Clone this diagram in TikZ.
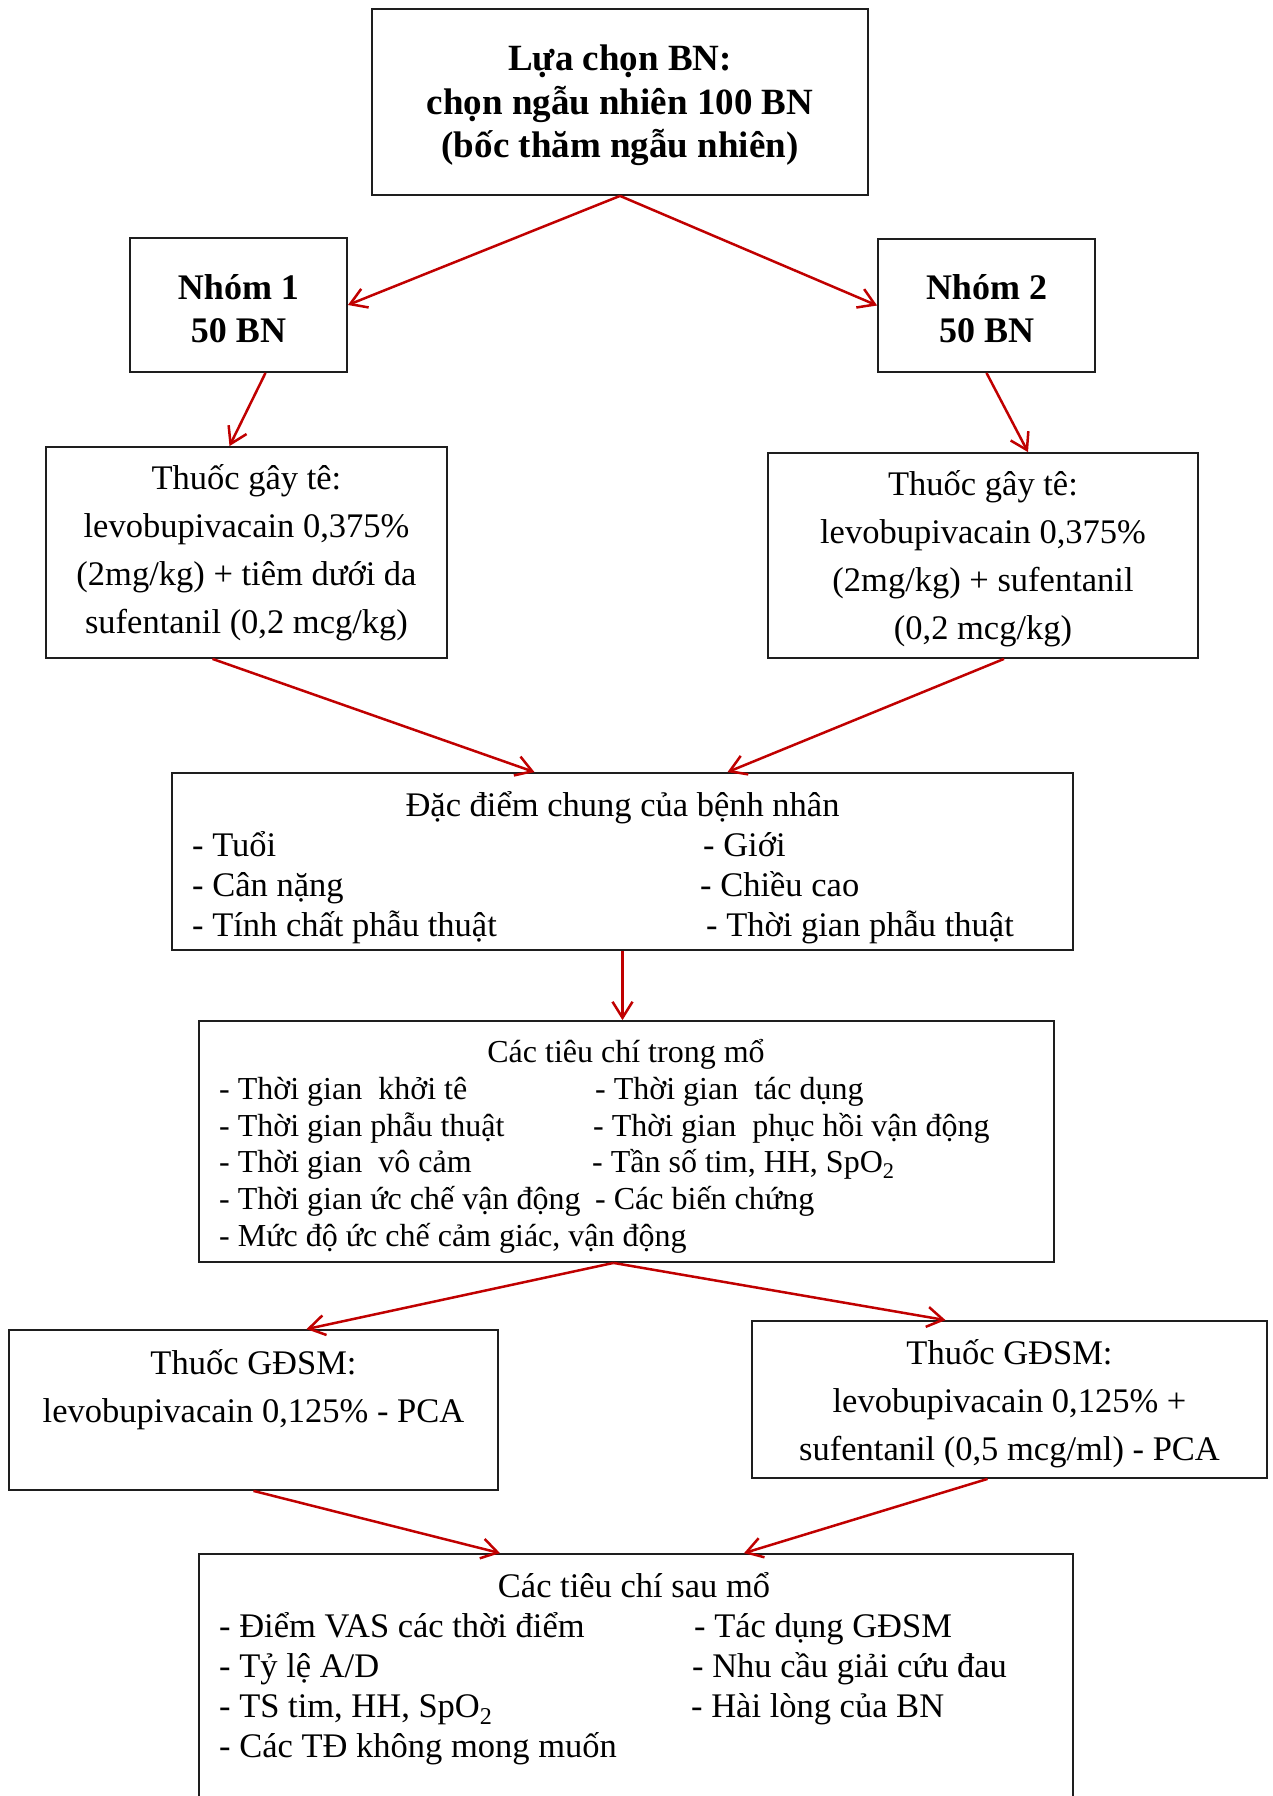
\documentclass[tikz,border=0pt]{standalone}
\usepackage{fontspec}
\setmainfont{Liberation Serif}
\usetikzlibrary{arrows.meta}
\definecolor{linkred}{HTML}{C00000}
\definecolor{boxline}{HTML}{1E1E1E}
\newcommand{\headfont}{\fontsize{37}{43.5}\selectfont\bfseries}
\newcommand{\groupfont}{\fontsize{36}{43.5}\selectfont\bfseries}
\newcommand{\drugfont}{\fontsize{34.5}{48}\selectfont}
\newcommand{\listfont}{\fontsize{34.5}{40}\selectfont}
\newcommand{\intrafont}{\fontsize{32}{36.6}\selectfont}
\tikzset{
  box/.style={draw=boxline, line width=1.8pt, inner sep=0pt, align=center},
  link/.style={draw=linkred, line width=2.5pt, -{Straight Barb[length=16pt,width=20pt]}},
  head/.style={anchor=base, inner sep=0pt},
  item/.style={anchor=base west, inner sep=0pt},
}

\begin{document}
\begin{tikzpicture}[x=1pt,y=-1pt]
\useasboundingbox (0,0) rectangle (1272,1796);

% boxes
\node[box, minimum width=496pt, minimum height=186pt, font=\headfont, text depth=1pt]    (select) at ( 620, 102)   {Lựa chọn BN:\\chọn ngẫu nhiên 100 BN\\(bốc thăm ngẫu nhiên)};
\node[box, minimum width=217pt, minimum height=134pt, font=\groupfont, text height=75pt, text depth=0pt] (grpA) at (238.5, 305)  {Nhóm 1\\50 BN};
\node[box, minimum width=217pt, minimum height=133pt, font=\groupfont, text height=74pt, text depth=0pt] (grpB) at (986.5,305.5) {Nhóm 2\\50 BN};
\node[box, minimum width=401pt, minimum height=211pt, font=\drugfont]                    (drugA)  at (246.5,552.5) {Thuốc gây tê:\\levobupivacain 0,375\%\\(2mg/kg) + tiêm dưới da\\sufentanil (0,2 mcg/kg)};
\node[box, minimum width=430pt, minimum height=205pt, font=\drugfont, text depth=-1.5pt] (drugB)  at ( 983,555.5)  {Thuốc gây tê:\\levobupivacain 0,375\%\\(2mg/kg) + sufentanil\\(0,2 mcg/kg)};
\node[box, minimum width=901pt, minimum height=177pt]                                    (traits) at (622.5,861.5) {};
\node[box, minimum width=855pt, minimum height=241pt]                                    (intra)  at (626.5,1141.5) {};
\node[box, minimum width=489pt, minimum height=160pt, font=\drugfont, text depth=49pt]   (analgA) at (253.5,1410) {Thuốc GĐSM:\\levobupivacain 0,125\% - PCA};
\node[box, minimum width=515pt, minimum height=157pt, font=\drugfont, text depth=-1.5pt] (analgB) at (1009.5,1399.5) {Thuốc GĐSM:\\levobupivacain 0,125\% +\\sufentanil (0,5 mcg/ml) - PCA};
\node[box, minimum width=874pt, minimum height=262pt]                                    (post)   at ( 636,1685)   {};

% general traits
\node[head, font=\listfont] (traitsHead) at (622.5, 816) {Đặc điểm chung của bệnh nhân};
\node[item, font=\listfont] (traitsA1)   at ( 192, 856) {- Tuổi};
\node[item, font=\listfont] (traitsA2)   at ( 192, 896) {- Cân nặng};
\node[item, font=\listfont] (traitsA3)   at ( 192, 936) {- Tính chất phẫu thuật};
\node[item, font=\listfont] (traitsB1)   at ( 703, 856) {- Giới};
\node[item, font=\listfont] (traitsB2)   at ( 700, 896) {- Chiều cao};
\node[item, font=\listfont] (traitsB3)   at ( 706, 936) {- Thời gian phẫu thuật};

% intraoperative criteria
\node[head, font=\intrafont] (intraHead) at ( 626,1062) {Các tiêu chí trong mổ};
\node[item, font=\intrafont] (intraA1)   at ( 219,1099) {- Thời gian\ \ khởi tê};
\node[item, font=\intrafont] (intraA2)   at ( 219,1136) {- Thời gian phẫu thuật};
\node[item, font=\intrafont] (intraA3)   at ( 219,1172) {- Thời gian\ \ vô cảm};
\node[item, font=\intrafont] (intraA4)   at ( 219,1209) {- Thời gian ức chế vận động};
\node[item, font=\intrafont] (intraA5)   at ( 219,1246) {- Mức độ ức chế cảm giác, vận động};
\node[item, font=\intrafont] (intraB1)   at ( 595,1099) {- Thời gian\ \ tác dụng};
\node[item, font=\intrafont] (intraB2)   at ( 593,1136) {- Thời gian\ \ phục hồi vận động};
\node[item, font=\intrafont] (intraB3)   at ( 592,1172) {- Tần số tim, HH, SpO\textsubscript{2}};
\node[item, font=\intrafont] (intraB4)   at ( 595,1209) {- Các biến chứng};

% postoperative criteria
\node[head, font=\listfont] (postHead) at ( 634,1597) {Các tiêu chí sau mổ};
\node[item, font=\listfont] (postA1)   at ( 219,1637) {- Điểm VAS các thời điểm};
\node[item, font=\listfont] (postA2)   at ( 219,1677) {- Tỷ lệ A/D};
\node[item, font=\listfont] (postA3)   at ( 219,1717) {- TS tim, HH, SpO\textsubscript{2}};
\node[item, font=\listfont] (postA4)   at ( 219,1757) {- Các TĐ không mong muốn};
\node[item, font=\listfont] (postB1)   at ( 694,1637) {- Tác dụng GĐSM};
\node[item, font=\listfont] (postB2)   at ( 692,1677) {- Nhu cầu giải cứu đau};
\node[item, font=\listfont] (postB3)   at ( 691,1717) {- Hài lòng của BN};

% arrows
\draw[link] (select.south) -- (grpA.east);
\draw[link] (select.south) -- (grpB.west);
\draw[link] ([xshift=27pt]grpA.south) -- ([xshift=-17pt]drugA.north);
\draw[link] (grpB.south) -- ([xshift=45pt]drugB.north);
\draw[link] ([xshift=-34pt]drugA.south) -- ([xshift=-88pt]traits.north);
\draw[link] ([xshift=21pt]drugB.south) -- ([xshift=105pt]traits.north);
\draw[link] (traits.south) -- (traits.south |- intra.north);
\draw[link] ([xshift=-13pt]intra.south) -- ([xshift=53pt]analgA.north);
\draw[link] ([xshift=-13pt]intra.south) -- ([xshift=-64pt]analgB.north);
\draw[link] (analgA.south) -- ([xshift=-136pt]post.north);
\draw[link] ([xshift=-22pt]analgB.south) -- ([xshift=108pt]post.north);
\end{tikzpicture}
\end{document}
